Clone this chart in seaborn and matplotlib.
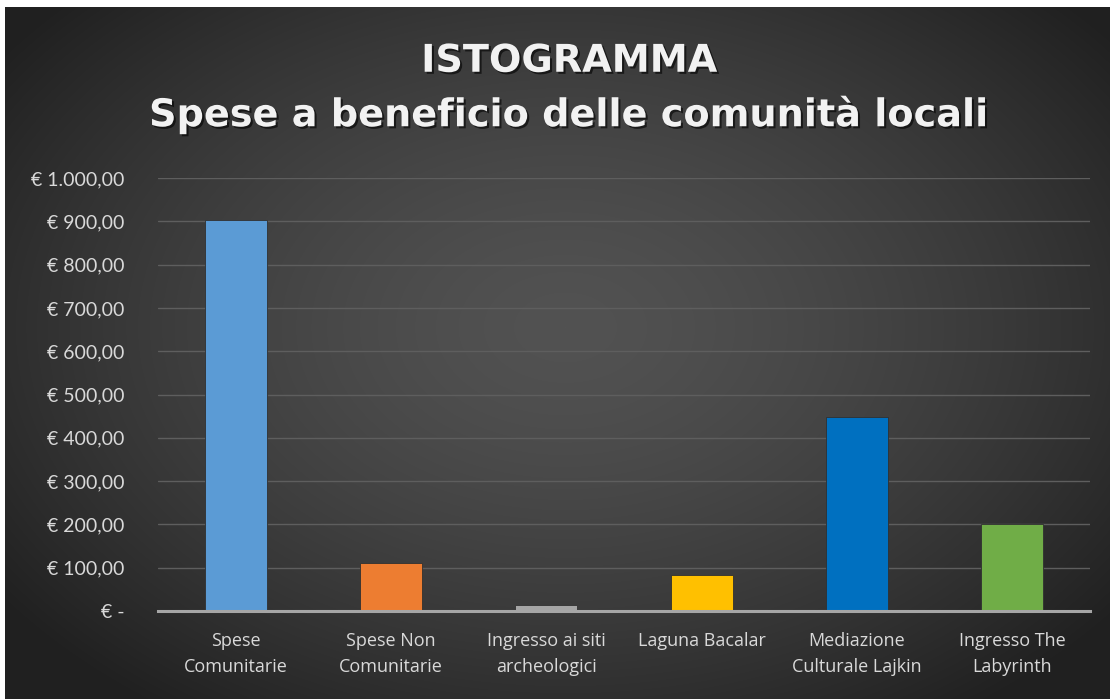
import numpy as np
import matplotlib
matplotlib.use("Agg")
import matplotlib.pyplot as plt
import matplotlib.patheffects as pe
from matplotlib.ticker import FuncFormatter
import seaborn as sns

# dati
categorie = [
    "Spese\nComunitarie",
    "Spese Non\nComunitarie",
    "Ingresso ai siti\narcheologici",
    "Laguna Bacalar",
    "Mediazione\nCulturale Lajkin",
    "Ingresso The\nLabyrinth",
]
spese = [903, 112, 15, 83, 449, 200]
colori = ["#5B9BD5", "#ED7D31", "#A5A5A5", "#FFC000", "#0070C0", "#70AD47"]
titolo = "ISTOGRAMMA\nSpese a beneficio delle comunità locali"

sns.set_style("dark")
plt.rcParams["font.family"] = ["Open Sans", "DejaVu Sans"]

W, H = 1110, 699
fig = plt.figure(figsize=(W / 100, H / 100), dpi=100, facecolor="white")

# sfondo scuro con gradiente radiale
bg = fig.add_axes([5 / W, 0, 1 - 5 / W, (H - 7) / H])
yy, xx = np.mgrid[0:692, 0:1105]
r = np.sqrt(((xx - 560) / 560.0) ** 2 + ((yy - 320) / 380.0) ** 2)
v = np.clip(82 - 36 * r ** 1.5, 32, 90) / 255.0
bg.imshow(np.dstack([v, v, v]), aspect="auto", extent=[0, 1, 0, 1], origin="upper")
bg.axis("off")

ax = fig.add_axes([158 / W, 1 - 611 / H, (1090 - 158) / W, (611 - 178) / H])
ax.set_facecolor("none")
ax.set_zorder(2)

sns.barplot(x=categorie, y=spese, hue=categorie, palette=colori, legend=False,
            saturation=1, width=0.4, ax=ax, edgecolor="#303030", linewidth=0.6, zorder=3)

ax.set_ylim(0, 1000)
ax.set_yticks(range(0, 1001, 100))


def euro(x, pos):
    if x == 0:
        return "€ -"
    s = f"{x:,.2f}".replace(",", "X").replace(".", ",").replace("X", ".")
    return "€ " + s


ax.yaxis.set_major_formatter(FuncFormatter(euro))
ax.grid(axis="y", color="#5e5e5e", linewidth=1)
ax.grid(axis="x", visible=False)
for s in ["top", "right", "left"]:
    ax.spines[s].set_visible(False)
ax.spines["bottom"].set_color("#a6a6a6")
ax.spines["bottom"].set_linewidth(2.2)
ax.spines["bottom"].set_zorder(4)
ax.tick_params(axis="y", length=0, pad=24, labelsize=14, labelcolor="#d9d9d9")
ax.tick_params(axis="x", length=0, pad=15, labelsize=13, labelcolor="#d9d9d9")
ax.set_xlabel("")
ax.set_ylabel("")
for lab in ax.get_yticklabels():
    lab.set_fontfamily(["Lato", "DejaVu Sans"])
for lab in ax.get_xticklabels():
    lab.set_linespacing(1.55)

fig.text(0.513, 1 - 89 / H, titolo, ha="center", va="center", fontsize=27.5,
         fontweight="bold", color="#f2f2f2", linespacing=1.55,
         family=["DejaVu Sans"],
         path_effects=[pe.withSimplePatchShadow(offset=(1.5, -1.5), shadow_rgbFace="black", alpha=0.6)])

plt.savefig("out.png", dpi=100, facecolor="white")
